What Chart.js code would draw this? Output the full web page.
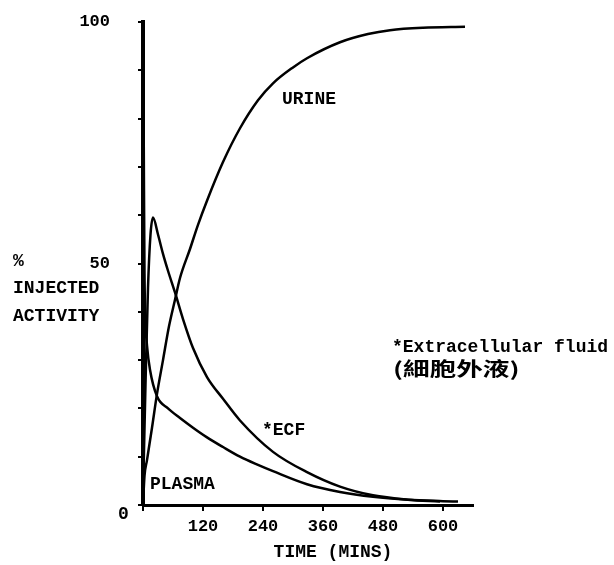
<!DOCTYPE html>
<html>
<head>
<meta charset="utf-8">
<script src="https://cdn.jsdelivr.net/npm/chart.js@4"></script>
<style>
  html, body { margin: 0; padding: 0; background: #fff; }
  #wrap { width: 614px; height: 565px; position: relative; }
</style>
</head>
<body>
<div id="wrap"><canvas id="c" width="614" height="565"></canvas></div>
<script>
// ---- data (minutes, % injected activity) ----
const plasmaT = [0, 1, 2, 3, 5, 8, 14, 28, 50, 74, 100, 128, 160, 194, 230, 260, 328, 394, 460, 530, 600, 630];
const plasmaV = [100, 85, 65, 48, 38, 33, 28, 22.5, 20, 18, 16, 14, 12, 10, 8.3, 7, 4.3, 2.7, 1.7, 1.1, 0.8, 0.7];

const ecfT = [0, 5, 10, 15, 20, 30, 40, 50, 64, 80, 100, 128, 160, 194, 260, 328, 394, 460, 530, 594];
const ecfV = [2, 25, 45, 56, 59.5, 56, 52, 48.5, 44, 38.5, 32.5, 26.5, 22, 17.5, 11, 6.8, 3.8, 2, 1.1, 0.7];

const urineT = [0, 3, 8, 18, 28, 40, 52, 64, 74, 94, 110, 128, 160, 194, 230, 260, 300, 328, 394, 450, 494, 560, 644];
const urineV = [0, 6, 9.3, 16, 23, 30, 37, 42.5, 47, 53, 58, 63, 71, 78, 83.8, 87.3, 90.6, 92.5, 95.8, 97.5, 98.3, 98.8, 99];

const xTickValues = [120, 240, 360, 480, 600];
const yLabelValues = [50, 100];

const FONT = '"Liberation Mono", "DejaVu Sans Mono", monospace';

function pts(ts, vs) { return ts.map((t, i) => ({ x: t, y: vs[i] })); }

const lineStyle = {
  borderColor: '#000', borderWidth: 2.5, pointRadius: 0, fill: false,
  tension: 0.4, cubicInterpolationMode: 'monotone'
};

const textPlugin = {
  id: 'texts',
  afterDraw(chart) {
    const ctx = chart.ctx;
    const xs = chart.scales.x, ys = chart.scales.y;
    const ca = chart.chartArea;
    ctx.save();
    ctx.fillStyle = '#000';
    ctx.textBaseline = 'middle';
    ctx.textAlign = 'left';
    ctx.font = 'bold 18px ' + FONT;
    // y-axis caption (outside plot)
    ctx.fillText('%', ca.left - 130, ys.getPixelForValue(50) - 2);
    ctx.fillText('INJECTED', ca.left - 130, ys.getPixelForValue(50) + 25);
    ctx.fillText('ACTIVITY', ca.left - 130, ys.getPixelForValue(50) + 53);
    // zero label
    ctx.fillText('0', ca.left - 25, ys.getPixelForValue(0) + 9);
    // x-axis title
    ctx.textAlign = 'center';
    ctx.fillText('TIME (MINS)', xs.getPixelForValue(380), ca.bottom + 47);
    ctx.textAlign = 'left';
    // curve labels (data coords)
    ctx.fillText('URINE', xs.getPixelForValue(278), ys.getPixelForValue(84));
    ctx.fillText('*ECF', xs.getPixelForValue(238), ys.getPixelForValue(15.4));
    ctx.fillText('PLASMA', xs.getPixelForValue(14), ys.getPixelForValue(4.3));
    ctx.fillText('*Extracellular fluid', xs.getPixelForValue(498), ys.getPixelForValue(32.6));
    // Chinese note, slightly widened like the scanned original
    ctx.font = 'bold 19px "Noto Sans CJK TC", "Noto Sans CJK JP", sans-serif';
    ctx.translate(xs.getPixelForValue(500), ys.getPixelForValue(28.3));
    ctx.scale(1.4, 1);
    ctx.fillText('(細胞外液)', 0, 0);
    ctx.restore();
  }
};

new Chart(document.getElementById('c'), {
  type: 'line',
  data: {
    datasets: [
      Object.assign({ label: 'PLASMA', data: pts(plasmaT, plasmaV) }, lineStyle),
      Object.assign({ label: 'ECF', data: pts(ecfT, ecfV) }, lineStyle),
      Object.assign({ label: 'URINE', data: pts(urineT, urineV) }, lineStyle)
    ]
  },
  options: {
    responsive: false,
    animation: false,
    layout: { padding: { top: 22, right: 141, bottom: 0, left: 0 } },
    plugins: { legend: { display: false }, tooltip: { enabled: false } },
    scales: {
      x: {
        type: 'linear', min: 0, max: 660,
        afterBuildTicks(s) { s.ticks = [0].concat(xTickValues).map(v => ({ value: v })); },
        afterFit(s) { s.height = 60; s.paddingLeft = 0; s.paddingRight = 0; },
        ticks: {
          color: '#000', padding: 6, maxRotation: 0, autoSkip: false,
          font: { family: FONT, size: 17, weight: 'bold' },
          callback: v => (xTickValues.includes(v) ? String(v) : '')
        },
        grid: { display: true, drawOnChartArea: false, drawTicks: true, tickLength: 6, color: '#000', lineWidth: 2 },
        border: { display: true, color: '#000', width: 3 }
      },
      y: {
        type: 'linear', min: 0, max: 100,
        afterFit(s) { s.width = 143; s.paddingTop = 0; s.paddingBottom = 0; },
        ticks: {
          stepSize: 10, color: '#000', padding: 28, autoSkip: false,
          font: { family: FONT, size: 17, weight: 'bold' },
          callback: v => (yLabelValues.includes(v) ? String(v) : '')
        },
        grid: { display: true, drawOnChartArea: false, drawTicks: true, tickLength: 5, color: '#000', lineWidth: 2 },
        border: { display: true, color: '#000', width: 4 }
      }
    }
  },
  plugins: [textPlugin]
});
</script>
</body>
</html>
